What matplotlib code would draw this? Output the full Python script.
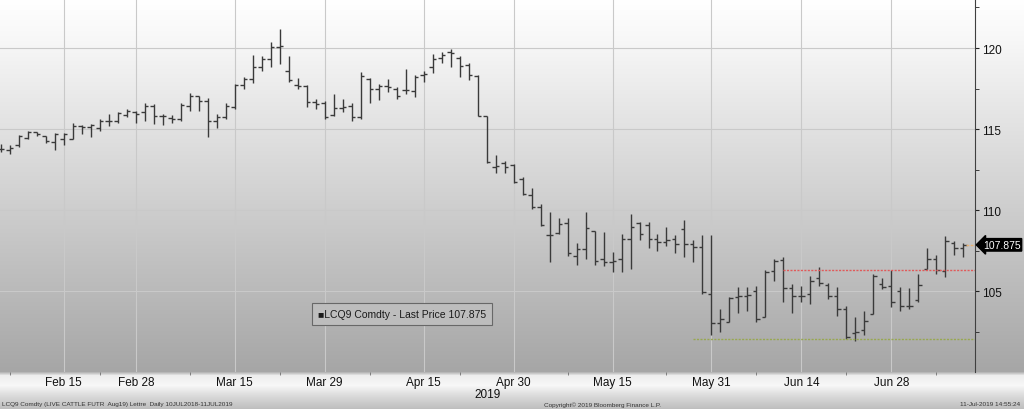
import numpy as np
import pandas as pd
import matplotlib
matplotlib.use('Agg')
import matplotlib.pyplot as plt

plt.rcParams['font.family'] = ['Liberation Sans', 'DejaVu Sans']

# trading days shown (CME closed on these)
holidays = ['2019-02-18', '2019-04-19', '2019-05-27', '2019-07-04']
dates = pd.bdate_range('2019-02-06', '2019-07-11')
dates = dates[~dates.isin(pd.to_datetime(holidays))]

opens = [113.8, 113.7, 114.0, 114.45, 114.8, 114.6, 114.2, 114.4, 114.4, 115.2,
         115.15, 115.1, 115.5, 115.5, 115.85, 116.05, 116.05, 116.45, 115.8, 115.7,
         115.65, 116.45, 117.05, 116.75, 115.5, 115.75, 116.35, 117.7, 118.1, 118.8,
         119.35, 120.05, 118.6, 117.75, 117.65, 116.65, 116.6, 115.85, 116.3, 116.45,
         115.75, 118.1, 117.45, 117.65, 117.5, 117.4, 117.35, 118.35, 118.8, 119.4,
         119.75, 119.4, 118.95, 118.3, 115.8, 112.7, 112.9, 112.8, 111.9, 110.95,
         110.2, 108.5, 108.6, 109.2, 107.2, 107.6, 108.7, 107.0, 106.8, 107.0,
         108.25, 109.2, 109.1, 108.25, 108.05, 108.25, 108.85, 107.9, 107.75, 104.85,
         103.05, 103.15, 104.65, 104.7, 105.05, 103.4, 106.25, 106.95, 105.2, 104.7,
         104.85, 105.85, 105.4, 104.75, 103.9, 102.45, 102.6, 103.6, 105.45, 105.35,
         105.05, 104.1, 104.45, 106.4, 107.0, 106.25, 108.0, 107.7]
highs = [114.1, 114.0, 114.65, 114.9, 114.85, 114.6, 114.75, 114.75, 115.35, 115.25,
         115.3, 115.6, 115.95, 116.05, 116.25, 116.1, 116.6, 116.55, 115.95, 115.85,
         116.6, 117.25, 117.05, 116.95, 115.95, 116.6, 117.8, 118.2, 119.55, 119.5,
         120.4, 121.15, 119.5, 118.15, 117.7, 116.85, 116.75, 117.15, 116.85, 116.6,
         118.55, 118.15, 117.8, 118.1, 117.6, 118.7, 118.35, 118.6, 119.65, 119.75,
         119.95, 119.5, 119.1, 118.35, 115.8, 113.4, 113.05, 112.85, 112.05, 111.35,
         110.4, 109.9, 109.5, 109.5, 108.0, 109.9, 108.75, 108.65, 107.45, 108.55,
         109.75, 109.3, 109.3, 108.55, 108.95, 108.45, 109.4, 108.2, 108.45, 108.45,
         103.9, 104.65, 105.25, 105.25, 105.35, 106.3, 107.0, 107.1, 105.45, 105.35,
         105.95, 106.5, 105.55, 105.25, 104.1, 103.4, 103.8, 106.05, 105.85, 106.35,
         105.25, 105.2, 106.05, 107.7, 107.25, 108.4, 108.1, 108.0]
lows = [113.6, 113.5, 113.9, 114.4, 114.55, 114.15, 113.7, 114.0, 114.4, 114.7,
        114.5, 114.9, 115.2, 115.4, 115.75, 115.4, 115.5, 115.3, 115.25, 115.4,
        115.5, 116.15, 116.15, 114.5, 115.1, 115.65, 116.25, 117.45, 117.85, 118.6,
        118.8, 119.0, 117.9, 117.5, 116.35, 116.25, 115.6, 115.8, 116.05, 115.5,
        115.65, 116.6, 116.8, 117.3, 116.85, 117.15, 117.0, 117.9, 118.45, 119.1,
        118.8, 118.2, 118.05, 115.8, 112.9, 112.3, 112.3, 111.7, 110.95, 110.1,
        109.05, 106.8, 108.55, 107.2, 106.65, 107.0, 106.65, 106.6, 106.2, 106.2,
        106.4, 108.2, 107.7, 107.5, 107.8, 107.35, 107.1, 106.8, 104.85, 102.3,
        102.5, 103.1, 103.7, 103.8, 103.1, 103.4, 105.65, 104.35, 103.7, 104.35,
        104.25, 105.35, 104.55, 103.5, 102.05, 101.95, 102.3, 103.6, 105.15, 104.05,
        103.8, 103.9, 104.35, 106.4, 106.1, 105.9, 107.25, 107.1]
closes = [113.75, 113.85, 114.6, 114.85, 114.7, 114.3, 114.7, 114.7, 115.2, 115.15,
          115.25, 115.5, 115.5, 116.0, 116.15, 115.95, 116.45, 115.8, 115.8, 115.6,
          116.5, 117.05, 116.75, 115.5, 115.75, 116.4, 117.7, 118.1, 118.8, 119.35,
          120.05, 120.1, 118.05, 117.65, 116.65, 116.55, 115.75, 116.3, 116.35, 115.75,
          118.25, 117.5, 117.65, 117.6, 117.05, 117.4, 118.2, 118.4, 119.35, 119.6,
          119.7, 118.9, 118.35, 115.8, 112.95, 112.75, 112.65, 111.75, 111.0, 110.2,
          109.1, 108.45, 109.15, 107.4, 107.6, 108.9, 106.9, 106.8, 106.9, 108.25,
          108.95, 108.55, 108.25, 108.05, 108.2, 107.95, 107.9, 107.75, 104.95, 103.05,
          103.3, 104.6, 104.7, 104.8, 103.3, 106.2, 106.85, 105.2, 104.7, 104.7,
          105.65, 105.5, 104.75, 103.9, 102.2, 102.5, 103.2, 105.95, 105.3, 104.35,
          104.1, 104.1, 105.4, 107.0, 106.3, 108.1, 107.7, 107.875]

tick_dates = ['2019-02-15', '2019-02-28', '2019-03-15', '2019-03-29', '2019-04-15',
              '2019-04-30', '2019-05-15', '2019-05-31', '2019-06-14', '2019-06-28']
tick_labels = ['Feb 15', 'Feb 28', 'Mar 15', 'Mar 29', 'Apr 15',
               'Apr 30', 'May 15', 'May 31', 'Jun 14', 'Jun 28']
last_price = 107.875
resistance = 106.33
support = 102.1

x = np.arange(len(dates))
tick_pos = [dates.get_loc(pd.Timestamp(d)) for d in tick_dates]

W, H = 1024, 410
fig = plt.figure(figsize=(W / 100, H / 100), dpi=100)

# background gradient (plot area + bottom strip)
rows = np.arange(H)
shade = np.where(rows < 373,
                 np.interp(rows, [0, 40, 373], [1.0, 0.97, 0.65]),
                 np.interp(rows, [373, 376, 386, 396, 410], [0.72, 0.93, 0.97, 0.86, 0.74]))
bg = fig.add_axes([0, 0, 1, 1], zorder=0)
bg.imshow(np.repeat(shade[:, None, None], 3, axis=2), aspect='auto',
          extent=[0, 1, 0, 1], interpolation='bilinear')
bg.axis('off')

ax = fig.add_axes([0, 37 / H, 975 / W, 373 / H], zorder=1)
ax.set_facecolor('none')
ax.set_xlim(-0.1, 108.3)
ax.set_ylim(100.04, 123.02)

for s in ['top', 'left', 'bottom']:
    ax.spines[s].set_visible(False)
ax.spines['right'].set_color('#404040')
ax.spines['right'].set_linewidth(0.8)

# grid
ax.set_xticks(tick_pos)
ax.set_xticklabels(tick_labels)
ax.set_xticks([1, 11, 21, 31, 41, 51, 63, 74, 84, 94, 104], minor=True)
ax.yaxis.tick_right()
ax.set_yticks([105, 110, 115, 120])
ax.set_yticks([102.5, 107.5, 112.5, 117.5, 122.5], minor=True)
ax.grid(True, which='major', color='#c9c9c9', linewidth=0.8)
ax.set_axisbelow(True)
ax.tick_params(axis='x', which='major', length=0, labelsize=8.5, pad=3, colors='#111111')
ax.tick_params(axis='x', which='minor', length=2.5, color='#707070', direction='out')
ax.tick_params(axis='y', which='both', length=3, color='#222222', direction='out',
               labelsize=8.5, pad=2, labelcolor='#111111')

# OHLC bars
bar_col = '#3a3a3a'
ax.vlines(x, lows, highs, color=bar_col, linewidth=1.0)
ax.hlines(opens, x - 0.38, x, color=bar_col, linewidth=1.0)
ax.hlines(closes, x, x + 0.38, color=bar_col, linewidth=1.0)

# horizontal levels
ax.hlines(resistance, 86.9, 108.3, color='#e05a5a', linewidth=1.0, linestyle=(0, (1.5, 1)))
ax.hlines(support, 76.9, 108.3, color='#98a850', linewidth=1.0, linestyle=(0, (1.5, 1)))
ax.hlines(last_price, 107.3, 108.3, color='#e8b070', linewidth=1.0, linestyle=(0, (2, 1)))

# last price tag
ax.text(1.008, last_price, '107.875', transform=ax.get_yaxis_transform(),
        color='white', fontsize=7.5, va='center', ha='left', clip_on=False,
        bbox=dict(boxstyle='larrow,pad=0.12', fc='black', ec='black'))

# legend box
fig.text(402 / W, 1 - 315 / H, '\u25a0LCQ9 Comdty - Last Price 107.875',
         ha='center', va='center', fontsize=7.5, color='#1a1a1a',
         bbox=dict(boxstyle='square,pad=0.6', fc='#bdbdbd', ec='#686868', lw=0.8))

fig.text(488 / W, 1 - 395 / H, '2019', ha='center', va='center', fontsize=8.5, color='#111111')

# footer
fig.text(2 / W, 5 / H, 'LCQ9 Comdty (LIVE CATTLE FUTR  Aug19) Lettre  Daily 10JUL2018-11JUL2019',
         ha='left', va='center', fontsize=4.6, color='#333333')
fig.text(603 / W, 5 / H, 'Copyright\u00a9 2019 Bloomberg Finance L.P.',
         ha='center', va='center', fontsize=4.6, color='#333333')
fig.text(1020 / W, 5 / H, '11-Jul-2019 14:55:24',
         ha='right', va='center', fontsize=4.6, color='#333333')

fig.savefig('out.png', dpi=100)
